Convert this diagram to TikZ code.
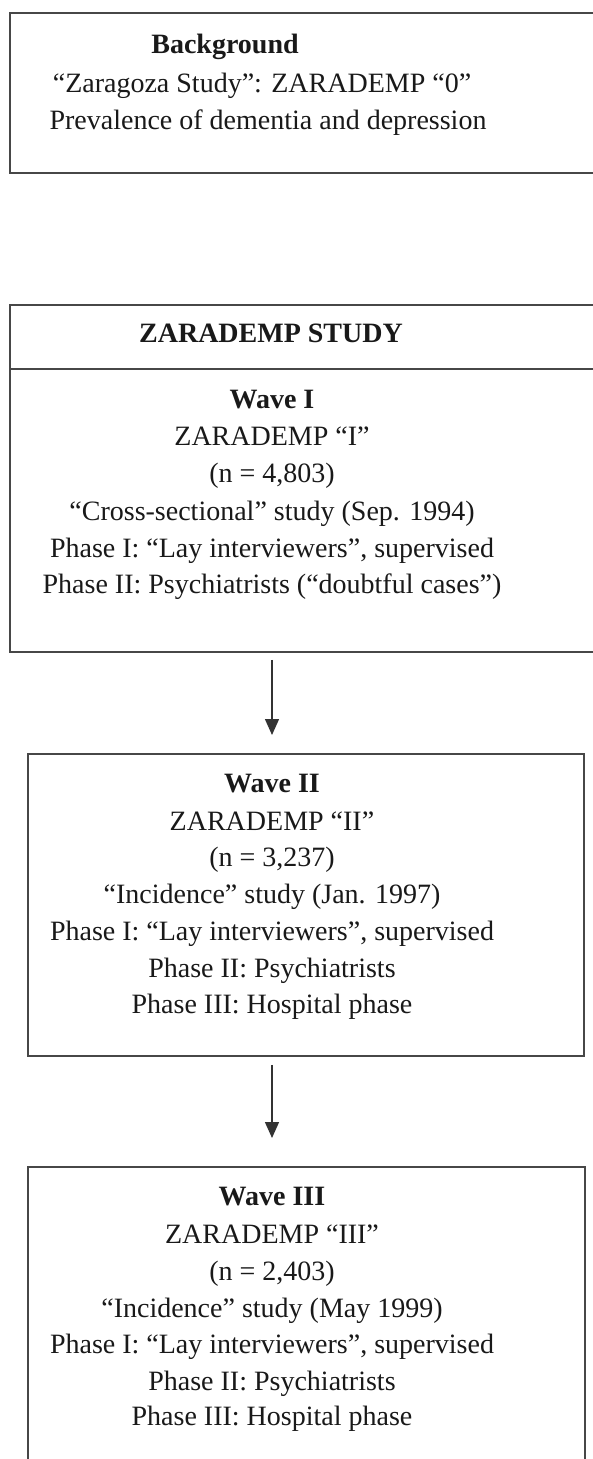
\documentclass[tikz,border=0pt]{standalone}
\usepackage{fontspec}
\setmainfont{Liberation Serif}
\usetikzlibrary{arrows.meta,calc}
\begin{document}
\begin{tikzpicture}[x=1pt,y=-1pt,
  box/.style={draw=black!72, line width=1.8pt, rectangle, inner sep=0pt, anchor=north west},
  txt/.style={anchor=base, inner sep=0pt, text=black!90, font=\fontsize{28}{37}\selectfont},
  btxt/.style={txt, font=\fontsize{28}{37}\selectfont\bfseries},
  conn/.style={draw=black!80, line width=1.4pt, -{Triangle[width=14pt,length=16pt]}}]
\path[use as bounding box, fill=white] (0,0) rectangle (592,1459);

% boxes
\node[box, minimum width=600pt, minimum height=160pt] (bg) at (9,12) {};
\node[box, minimum width=600pt, minimum height=347pt] (study) at (9,304) {};
\draw[draw=black!72, line width=1.8pt] ($(study.north west)+(0,65)$) -- ($(study.north east)+(0,65)$);
\node[box, minimum width=556pt, minimum height=302pt] (w2) at (27,753) {};
\node[box, minimum width=557pt, minimum height=330pt] (w3) at (27,1166) {};

% background text
\node[btxt] (b1) at (225,53) {Background};
\node[txt] (b2) at (262,92) {“Zaragoza Study”: ZARADEMP “0”};
\node[txt] (b3) at (268,129) {Prevalence of dementia and depression};

% study header
\node[btxt] (s0) at (271,342) {ZARADEMP STUDY};

% wave I
\node[btxt] (t1a) at (272,408) {Wave I};
\node[txt] (t1b) at (272,445) {ZARADEMP “I”};
\node[txt] (t1c) at (272,482) {(n = 4,803)};
\node[txt] (t1d) at (272,520) {“Cross-sectional” study (Sep. 1994)};
\node[txt] (t1e) at (272,557) {Phase I: “Lay interviewers”, supervised};
\node[txt] (t1f) at (272,593) {Phase II: Psychiatrists (“doubtful cases”)};

% wave II
\node[btxt] (t2a) at (272,792) {Wave II};
\node[txt] (t2b) at (272,830) {ZARADEMP “II”};
\node[txt] (t2c) at (272,866) {(n = 3,237)};
\node[txt] (t2d) at (272,903) {“Incidence” study (Jan. 1997)};
\node[txt] (t2e) at (272,940) {Phase I: “Lay interviewers”, supervised};
\node[txt] (t2f) at (272,977) {Phase II: Psychiatrists};
\node[txt] (t2g) at (272,1013) {Phase III: Hospital phase};

% wave III
\node[btxt] (t3a) at (272,1205) {Wave III};
\node[txt] (t3b) at (272,1243) {ZARADEMP “III”};
\node[txt] (t3c) at (272,1280) {(n = 2,403)};
\node[txt] (t3d) at (272,1317) {“Incidence” study (May 1999)};
\node[txt] (t3e) at (272,1353) {Phase I: “Lay interviewers”, supervised};
\node[txt] (t3f) at (272,1390) {Phase II: Psychiatrists};
\node[txt] (t3g) at (272,1425) {Phase III: Hospital phase};

% connectors
\draw[conn, shorten <=7pt, shorten >=18pt] (study.south -| t1a) -- (w2.north -| t1a);
\draw[conn, shorten <=8pt, shorten >=28pt] (w2.south -| t2a) -- (w3.north -| t2a);
\end{tikzpicture}
\end{document}
